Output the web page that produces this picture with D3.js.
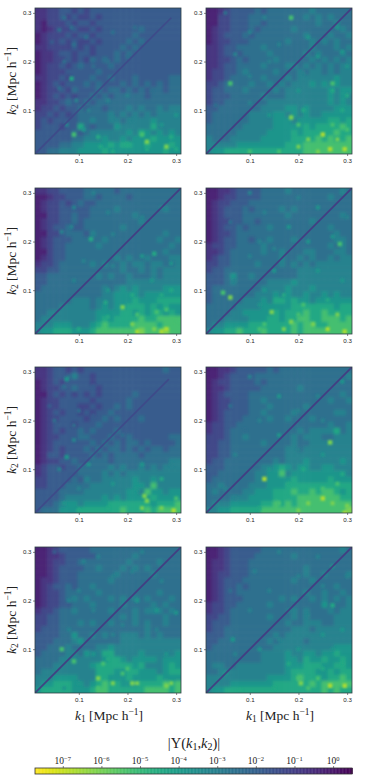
<!DOCTYPE html>
<html>
<head>
<meta charset="utf-8">
<script src="https://cdn.jsdelivr.net/npm/d3@7"></script>
<style>
html,body{margin:0;padding:0;background:#fff}
svg{display:block}
.tick text{font-family:"Liberation Sans",sans-serif;font-size:6.2px;fill:#262626}
.lab{font-family:"Liberation Serif",serif;fill:#222}
</style>
</head>
<body>
<svg id="mainsvg" width="389" height="777"></svg>
<script>
// each panel: rows from k2=0.31 down to k2=0.01, columns k1=0.01 to 0.31
// digits are levels, see levelExp
const panelA = ["112233232333333333333333","112232322323333333333333","102223233233333333333333","101222322323333334333333","012223233233333343333333","012232322323333434333333","112222323233334343333333","011233233233343433333333","011223232434343333333333","012232343333433333333333","012223333343333333333333","112232333433433343333344","012323334343334343434344","012232433343443434344344","012323233434344444344444","112234334344444444444444","122323343443444545445455","223232344444545454545555","232333344544554555565555","233323374344465555575555","333333434555555657656565","333333445556556566676666","333344556666767766766676","334455566667666666666766"]
const panelB = ["001233334344444445444444","002233344444444454545444","002233344344444444544544","012233343444445444444454","012333434444444454445445","012233344444454445454544","112334444544444445444545","112333444454444454544454","112234344445444445454545","112334444544455454545455","122334544445444545545455","122344444544454555555655","223444454454545556565655","233444544445455555556566","233344444544455555556565","233444444455555555556565","334444444555566565555666","344444455556656565566666","344444455556665666667767","444444555556666676777787","444445555566667677777877","544455555666667777878778","555556666666677788888888","566777777777777788888888"]
const panelC = ["112233334444434444444444","001223334434444344444444","012232343344444444444444","012233333444454444444544","002233433444444454444444","012233434444444445444444","012334334444445444444444","002234443544444444444544","012333444445444444445445","012334444454444444444454","002334444444444444444544","012334444444454544544455","122344444545445455455445","223344444444445445454555","334444444454544544454555","334444444444444555555555","344444444445456565555666","444444444445566665666666","444444555455566676667777","444455555456566777676766","445555555566667767677676","455555555567677778778888","555666555678777788887888","566777666788888889888988"]
const panelD = ["001123333444454444444454","001223333444444444445444","012233344444444444444444","012333434444545444444444","012333444444454444444454","012233443444444445444444","012334344454444444445444","012234444444444444444544","012334434454445444444554","122334444544444444445454","112344444544544455444554","123344444444544545445455","223344445444545454555555","233444444444444555555555","333464454444444555555555","333454444455556555555555","344444444555565556555555","344444445556565565565655","344444555657767665666666","444445555666667777777677","444455666667677787787777","444555566677677887788878","455666677777778788778888","566778777877778788888888"]
const panelE = ["112332323333333333333433","112333533233333333333333","012323333233333333333333","012233433323333333333333","002323232323333343333333","012233333233333433333333","012233322323343433333333","012323323233433333333333","012233332334343334333333","012333233343333333333333","012323343433343333333333","012233344333433433333344","012333333434343443433334","012323334343443434344344","013323333434344443444444","012233433444344444444455","123323344444545445454555","123333344445454555555555","223333435445555565565555","223334444555555566585555","333344445555555665866566","333345555556565666676666","333456656666777777767778","344466677777778777878888"]
const panelF = ["001123333343444444444444","001233334444444444444445","012233334344444444444444","011233333444444544444444","012333344444444444444454","012233344544444444445445","012233344454444454444444","012333344544445444444554","012333444454454445444444","122334444444444444445445","122344444444444545555745","222344544444445455544555","223344444544445445555555","223344444444455455555555","223344444444455555555555","233444444445455565555565","333444444556765665566555","334444445566856666666665","344444445566667666667666","445444455566677777777777","454444556667778778788767","444455566667777888888877","455566666778787888888888","556677777888888888888889"]
const panelG = ["001233333444444444444444","001123333344444454444444","001223344444444544445444","001233334454445454544444","001233344444454444454444","011233344444544444444444","012334344544444444444444","012234444454444444445444","012234545444545454544454","012233444544445444454544","122344544444544454555454","223344444444445454444544","223344454544544454544544","233344444444444444544444","333344644545445554545444","333444564444445555555555","334445444455655555555555","344445546557755556555556","444455555556776566665666","444555555677777767555676","455555555577766776665677","555666655577666766667666","566777665678776667777878","677777666788777777888878"]
const panelH = ["001233333444444444444454","001233334444445444444444","011233344444444444444444","011233344444444454444444","012233344444444454454445","012333444444445445444444","012334344444444444444544","012334444444444454454454","012333444444545445454545","122334444454444444464445","122344444444445454445455","223344444454445454444555","233344444444454455544555","233444444444445554555555","333444444445455555555555","334444444454555545555555","344444444445555555555666","444444444555565566566766","444444444555566576676676","455445555555566677766776","445555555555567777667677","555555555566667877767787","555566666667777778788888","566777777777777777787877"]
const panels = [panelA, panelB, panelC, panelD, panelE, panelF, panelG, panelH]

// brightest isolated spots, [k1, k2, level]
const peaksA = [[0.09,0.05,8],[0.23,0.05,8],[0.24,0.035,9],[0.28,0.025,9],[0.085,0.165,7],[0.14,0.045,7],[0.29,0.045,7]]
const peaksB = [[0.185,0.29,8],[0.06,0.155,8],[0.185,0.085,9],[0.25,0.05,10],[0.265,0.02,10],[0.295,0.02,10],[0.27,0.155,8]]
const peaksC = [[0.125,0.205,7],[0.19,0.065,9],[0.255,0.175,7],[0.26,0.055,8],[0.27,0.015,10]]
const peaksD = [[0.045,0.095,8],[0.06,0.085,9],[0.145,0.055,9],[0.285,0.195,8],[0.185,0.035,9],[0.295,0.015,10]]
const peaksE = [[0.075,0.285,6],[0.235,0.045,9],[0.24,0.035,9],[0.075,0.125,6],[0.295,0.015,10]]
const peaksF = [[0.13,0.08,10],[0.265,0.155,9],[0.25,0.04,10],[0.295,0.01,10]]
const peaksG = [[0.065,0.1,8],[0.09,0.075,8],[0.21,0.03,9],[0.14,0.04,9],[0.28,0.025,9]]
const peaksH = [[0.27,0.19,7],[0.265,0.025,10],[0.295,0.025,10],[0.065,0.12,6],[0.205,0.03,9]]
const peaks = [peaksA, peaksB, peaksC, peaksD, peaksE, peaksF, peaksG, peaksH]

// smaller blobs lighter than their surroundings, same form
const specksA = [[.07,.29,4],[.06,.265,4],[.085,.27,4],[.045,.24,3],[.09,.235,4],[.115,.25,4],[.07,.2,4],[.13,.19,4],[.16,.2,4],[.17,.26,4],[.2,.21,4],[.215,.27,4],[.06,.145,4],[.095,.12,5],[.12,.1,5],[.16,.12,5],[.2,.13,5],[.25,.14,4],[.17,.085,5],[.21,.08,5],[.27,.07,6],[.3,.09,6],[.2,.03,7],[.145,.025,7],[.17,.015,7],[.24,.02,7],[.3,.02,7],[.075,.07,5],[.11,.06,6]]
const specksB = [[.13,.29,5],[.05,.3,4],[.1,.26,5],[.22,.25,6],[.28,.27,6],[.16,.235,5],[.07,.215,5],[.14,.2,5],[.24,.21,6],[.29,.22,6],[.1,.17,5],[.21,.175,5],[.3,.19,6],[.03,.11,4],[.27,.14,7],[.3,.13,7],[.2,.14,6],[.1,.115,5],[.14,.09,6],[.21,.1,7],[.29,.1,7],[.2,.07,8],[.27,.07,8],[.22,.04,9],[.2,.025,9],[.24,.015,9],[.28,.04,9],[.3,.06,8],[.1,.015,8],[.16,.015,8]]
const specksC = [[.13,.3,5],[.09,.27,5],[.16,.26,5],[.23,.25,5],[.085,.23,5],[.27,.27,5],[.17,.215,5],[.065,.22,5],[.23,.17,6],[.29,.155,6],[.11,.16,5],[.17,.15,5],[.09,.12,5],[.25,.12,6],[.16,.1,6],[.29,.1,7],[.155,.075,7],[.16,.045,7],[.21,.09,7],[.27,.09,7],[.22,.05,8],[.28,.06,8],[.15,.02,8],[.21,.03,9],[.22,.015,10],[.255,.02,9],[.28,.02,10],[.3,.035,8],[.1,.02,7]]
const specksD = [[.1,.3,5],[.2,.29,5],[.29,.3,5],[.13,.26,5],[.24,.27,6],[.06,.24,4],[.18,.23,6],[.3,.25,5],[.12,.2,5],[.22,.2,6],[.27,.21,6],[.1,.17,5],[.15,.185,5],[.19,.15,5],[.15,.14,6],[.24,.14,6],[.29,.12,6],[.07,.12,5],[.13,.1,6],[.17,.09,7],[.12,.07,6],[.21,.07,8],[.26,.08,7],[.2,.05,8],[.28,.05,9],[.23,.03,9],[.12,.02,8],[.17,.02,9],[.26,.02,10],[.13,.03,8]]
const specksE = [[.07,.27,4],[.08,.29,4],[.04,.23,3],[.1,.22,4],[.05,.2,4],[.09,.19,4],[.13,.21,3],[.19,.17,4],[.13,.27,3],[.06,.1,5],[.09,.16,5],[.12,.11,6],[.14,.14,4],[.19,.1,5],[.23,.11,6],[.29,.11,5],[.1,.06,5],[.17,.07,6],[.27,.08,7],[.22,.06,6],[.07,.03,6],[.1,.015,7],[.16,.02,7],[.23,.02,9],[.27,.02,9],[.3,.04,8]]
const specksF = [[.1,.29,5],[.24,.25,5],[.16,.25,6],[.29,.28,6],[.06,.23,4],[.12,.2,5],[.2,.22,5],[.25,.2,5],[.09,.18,4],[.16,.17,6],[.2,.14,5],[.07,.13,5],[.25,.13,6],[.14,.1,6],[.21,.1,7],[.29,.09,7],[.18,.07,7],[.05,.06,5],[.07,.04,5],[.25,.06,8],[.22,.03,9],[.16,.03,8],[.27,.03,9],[.3,.025,9],[.2,.015,9],[.12,.02,7],[.28,.07,8]]
const specksG = [[.05,.3,3],[.11,.28,5],[.14,.29,5],[.23,.3,5],[.17,.25,5],[.21,.26,5],[.27,.24,5],[.1,.22,5],[.08,.2,5],[.13,.18,5],[.22,.2,6],[.26,.18,6],[.3,.175,6],[.19,.15,5],[.08,.14,5],[.26,.14,5],[.17,.13,5],[.13,.09,6],[.28,.09,6],[.16,.08,7],[.2,.06,8],[.15,.07,8],[.17,.03,9],[.14,.02,8],[.22,.03,9],[.25,.015,8],[.29,.03,9],[.19,.05,8],[.1,.03,6],[.07,.02,6]]
const specksH = [[.16,.3,5],[.24,.29,5],[.11,.26,5],[.2,.25,5],[.27,.27,6],[.06,.22,4],[.14,.22,5],[.25,.23,5],[.3,.25,5],[.1,.18,5],[.18,.18,5],[.22,.17,5],[.29,.14,6],[.16,.12,5],[.25,.13,6],[.07,.09,5],[.12,.1,6],[.2,.1,6],[.27,.1,6],[.18,.07,7],[.25,.06,7],[.29,.07,7],[.2,.04,8],[.24,.04,8],[.15,.02,7],[.05,.05,6],[.22,.02,8],[.08,.015,7]]
const specks = [specksA, specksB, specksC, specksD, specksE, specksF, specksG, specksH]

// diagonal level and where it stops in each panel
const diagLevel = [2, 1, 1, 1, 2, 1, 1, 1]
const diagEnd = [0.29, 0.31, 0.31, 0.31, 0.285, 0.31, 0.31, 0.31]

const levelExp = [-0.25,-0.74,-1.23,-1.85,-2.47,-3.12,-3.78,-4.44,-5.26,-6.08,-6.7]
const kTicks = [0.1, 0.2, 0.3]
const cbExp = [-7,-6,-5,-4,-3,-2,-1,0]

const svg = d3.select("#mainsvg")
const colX = [35, 206], rowY = [8, 188, 367, 547]
const size = 146, nCell = 24, kMin = 0.01, kMax = 0.31, kStep = (kMax - kMin) / nCell
const color = d3.scaleSequential(d3.interpolateViridis).domain([0.49, -7.72])
const expOf = l => levelExp[Math.floor(l)]

const defs = svg.append("defs")
function addBlur(id, sd) {
    defs.append("filter").attr("id", id)
        .attr("filterUnits", "userSpaceOnUse")
        .attr("x", 0).attr("y", 0).attr("width", 389).attr("height", 777)
        .append("feGaussianBlur").attr("stdDeviation", sd)
}
addBlur("soft", 1.6)
addBlur("spot", 1)

function kLabel(sel, sub) {
    sel.append("tspan").attr("font-style", "italic").text("k")
    sel.append("tspan").attr("font-size", "70%").attr("dy", 2).text(sub)
    sel.append("tspan").attr("dy", -2).text(" [Mpc h")
    sel.append("tspan").attr("font-size", "70%").attr("dy", -5).text("\u22121")
    sel.append("tspan").attr("dy", 5).text("]")
}

panels.forEach(function (rows, p) {
    const left = colX[p % 2], top = rowY[Math.floor(p / 2)]
    const x = d3.scaleLinear().domain([kMin, kMax]).range([0, size])
    const y = d3.scaleLinear().domain([kMin, kMax]).range([size, 0])
    const g = svg.append("g").attr("transform", "translate(" + left + "," + top + ")")

    defs.append("clipPath").attr("id", "clip" + p)
        .append("rect").attr("width", size).attr("height", size)

    const cells = []
    rows.forEach((row, r) => row.split("").forEach((d, c) => {
        cells.push({k1: kMin + c * kStep, k2: kMax - (r + 1) * kStep, level: +d})
    }))

    const im = g.append("g").attr("clip-path", "url(#clip" + p + ")")
    const blur = im.append("g").attr("filter", "url(#soft)")
    // edge cells run past the frame so the blur does not fade at the border
    const pad = 8
    blur.selectAll("rect").data(cells).enter().append("rect")
        .attr("x", d => x(d.k1) - (d.k1 <= kMin + 1e-9 ? pad : 0))
        .attr("y", d => y(d.k2 + kStep) - (d.k2 + kStep >= kMax - 1e-9 ? pad : 0))
        .attr("width", d => x(d.k1 + kStep) - x(d.k1) + 0.5 + (d.k1 <= kMin + 1e-9 ? pad : 0) + (d.k1 + kStep >= kMax - 1e-9 ? pad : 0))
        .attr("height", d => y(d.k2) - y(d.k2 + kStep) + 0.5 + (d.k2 + kStep >= kMax - 1e-9 ? pad : 0) + (d.k2 <= kMin + 1e-9 ? pad : 0))
        .attr("fill", d => color(expOf(d.level)))

    const spots = im.append("g").attr("filter", "url(#spot)")
    spots.selectAll("rect.speck").data(specks[p]).enter().append("rect")
        .attr("class", "speck")
        .attr("x", d => x(d[0]) - 2).attr("y", d => y(d[1]) - 2)
        .attr("width", 4).attr("height", 4)
        .attr("fill", d => color(expOf(d[2])))
    spots.selectAll("rect.peak").data(peaks[p]).enter().append("rect")
        .attr("class", "peak")
        .attr("x", d => x(d[0]) - 2.2).attr("y", d => y(d[1]) - 2.2)
        .attr("width", 4.4).attr("height", 4.4)
        .attr("fill", d => color(expOf(d[2])))

    im.append("path")
        .attr("d", d3.line().x(d => x(d)).y(d => y(d))([kMin, diagEnd[p]]))
        .attr("fill", "none")
        .attr("stroke", color(expOf(diagLevel[p])))
        .attr("stroke-width", 1.7)
        .attr("opacity", 0.85)

    const xa = g.append("g").attr("transform", "translate(0," + size + ")")
        .call(d3.axisBottom(x).tickValues(kTicks).tickFormat(d3.format(".1f")).tickSize(2).tickPadding(2.5))
    const ya = g.append("g")
        .call(d3.axisLeft(y).tickValues(kTicks).tickFormat(d3.format(".1f")).tickSize(2).tickPadding(1.5))
    xa.select(".domain").remove()
    ya.select(".domain").remove()
    xa.selectAll("line").attr("stroke", "#333").attr("stroke-width", 0.6)
    ya.selectAll("line").attr("stroke", "#333").attr("stroke-width", 0.6)

    g.append("rect").attr("width", size).attr("height", size)
        .attr("fill", "none").attr("stroke", "#2f3f45").attr("stroke-width", 0.8)

    if (p % 2 == 0) {
        svg.append("text").attr("class", "lab").attr("font-size", 13.5)
            .attr("text-anchor", "middle")
            .attr("transform", "translate(16," + (top + size / 2) + ") rotate(-90)")
            .call(kLabel, "2")
    }
    if (p >= 6) {
        svg.append("text").attr("class", "lab").attr("font-size", 13.5)
            .attr("text-anchor", "middle")
            .attr("x", left + 74).attr("y", 720)
            .call(kLabel, "1")
    }
})

// colorbar
const cbX = d3.scaleLinear().domain([-7.72, 0.49]).range([35, 352])
const cbTop = 768, cbH = 6
svg.append("g").selectAll("rect").data(d3.range(-7.72, 0.49, 0.02)).enter().append("rect")
    .attr("x", d => cbX(d)).attr("y", cbTop)
    .attr("width", d => cbX(d + 0.02) - cbX(d) + 0.4).attr("height", cbH)
    .attr("fill", d => color(d))
svg.append("rect").attr("x", 35).attr("y", cbTop).attr("width", 317).attr("height", cbH)
    .attr("fill", "none").attr("stroke", "#333").attr("stroke-width", 0.8)
const cbA = svg.append("g").attr("transform", "translate(0," + cbTop + ")")
    .call(d3.axisTop(cbX).tickValues(cbExp).tickSize(2).tickFormat(""))
cbA.select(".domain").remove()
cbA.selectAll("line").attr("stroke", "#333").attr("stroke-width", 0.6)
cbExp.forEach(function (e) {
    const t = svg.append("text").attr("class", "lab").attr("font-size", 9.5)
        .attr("text-anchor", "middle").attr("x", cbX(e)).attr("y", 764)
    t.append("tspan").text("10")
    t.append("tspan").attr("font-size", 6.5).attr("dy", -3.5).text((e < 0 ? "\u2212" : "") + Math.abs(e))
})

const title = svg.append("text").attr("class", "lab").attr("font-size", 14.5)
    .attr("text-anchor", "middle").attr("x", 194).attr("y", 748)
title.append("tspan").text("|Y(")
title.append("tspan").attr("font-style", "italic").text("k")
title.append("tspan").attr("font-size", 10).attr("dy", 2).text("1")
title.append("tspan").attr("dy", -2).text(",")
title.append("tspan").attr("font-style", "italic").text("k")
title.append("tspan").attr("font-size", 10).attr("dy", 2).text("2")
title.append("tspan").attr("dy", -2).text(")|")
</script>
</body>
</html>
